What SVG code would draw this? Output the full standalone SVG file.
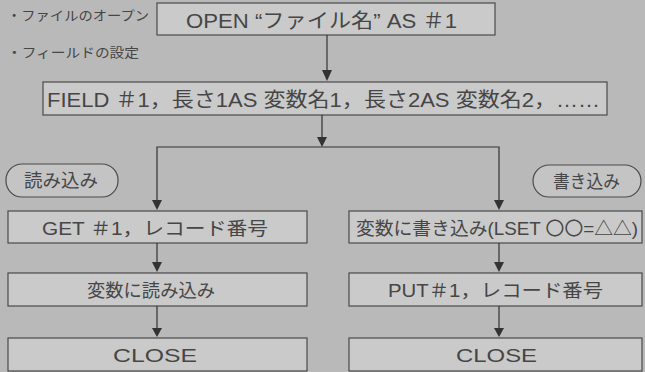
<svg xmlns="http://www.w3.org/2000/svg" width="645" height="372" viewBox="0 0 645 372">
<style>
.bg{fill:#b9b9b9}
.box{fill:#cacaca;stroke:#4a4a4a;stroke-width:1.2}
.oval{fill:#c4c4c4;stroke:#4a4a4a;stroke-width:1.2}
text{font-family:"Liberation Sans","Noto Sans CJK JP",sans-serif;fill:#464646}
.t{font-size:20px}
.m{font-size:18.5px}
.s{font-size:13px}
.c{stroke:#333;stroke-width:1.2;fill:none}
.h{fill:#333}
</style>
<rect class="bg" x="0" y="0" width="645" height="372"/>
<g id="label-open"><text class="s" x="7" y="20" textLength="142" lengthAdjust="spacingAndGlyphs">・ファイルのオープン</text></g>
<g id="label-field"><text class="s" x="7" y="57" textLength="132" lengthAdjust="spacingAndGlyphs">・フィールドの設定</text></g>
<g id="open"><rect class="box" x="157" y="3" width="338" height="32"/><text class="t" x="186" y="28" textLength="271" lengthAdjust="spacingAndGlyphs">OPEN “ファイル名” AS ＃1</text></g>
<g id="field"><rect class="box" x="43" y="82" width="564" height="33"/><text class="t" x="47" y="107" textLength="553" lengthAdjust="spacingAndGlyphs">FIELD ＃1，長さ1AS 変数名1，長さ2AS 変数名2，……</text></g>
<g id="read-label"><rect class="oval" x="6" y="164" width="112" height="33" rx="16"/><text class="m" x="24" y="187" textLength="74" lengthAdjust="spacingAndGlyphs">読み込み</text></g>
<g id="write-label"><rect class="oval" x="533" y="165" width="108" height="32" rx="16"/><text class="m" x="553" y="188" textLength="67" lengthAdjust="spacingAndGlyphs">書き込み</text></g>
<g id="get"><rect class="box" x="8" y="211" width="299" height="32"/><text class="m" x="42" y="235" textLength="226" lengthAdjust="spacingAndGlyphs">GET ＃1，レコード番号</text></g>
<g id="read-var"><rect class="box" x="8" y="273" width="299" height="33"/><text class="m" x="87" y="297" textLength="128" lengthAdjust="spacingAndGlyphs">変数に読み込み</text></g>
<g id="close-left"><rect class="box" x="8" y="338" width="299" height="33"/><text class="m" x="113" y="362" textLength="84" lengthAdjust="spacingAndGlyphs">CLOSE</text></g>
<g id="write-var"><rect class="box" x="349" y="211" width="293" height="32"/><text class="m" x="356" y="235" textLength="282" lengthAdjust="spacingAndGlyphs">変数に書き込み(LSET 〇〇=△△)</text></g>
<g id="put"><rect class="box" x="349" y="273" width="293" height="33"/><text class="m" x="388" y="297" textLength="215" lengthAdjust="spacingAndGlyphs">PUT＃1，レコード番号</text></g>
<g id="close-right"><rect class="box" x="349" y="338" width="293" height="33"/><text class="m" x="456" y="362" textLength="81" lengthAdjust="spacingAndGlyphs">CLOSE</text></g>
<g id="connectors">
<path class="c" d="M327 35V71"/><path class="h" d="M322 70H332L327 81Z"/>
<path class="c" d="M322 115V138M157 200V147H499V200"/><path class="h" d="M317 137H327L322 147Z"/>
<path class="h" d="M152 200H162L157 210Z"/><path class="h" d="M494 200H504L499 210Z"/>
<path class="c" d="M157 243V262M157 306V328M499 243V262M499 306V328"/>
<path class="h" d="M152 262H162L157 272Z"/><path class="h" d="M152 328H162L157 337Z"/>
<path class="h" d="M494 262H504L499 272Z"/><path class="h" d="M494 328H504L499 337Z"/>
</g>
</svg>
